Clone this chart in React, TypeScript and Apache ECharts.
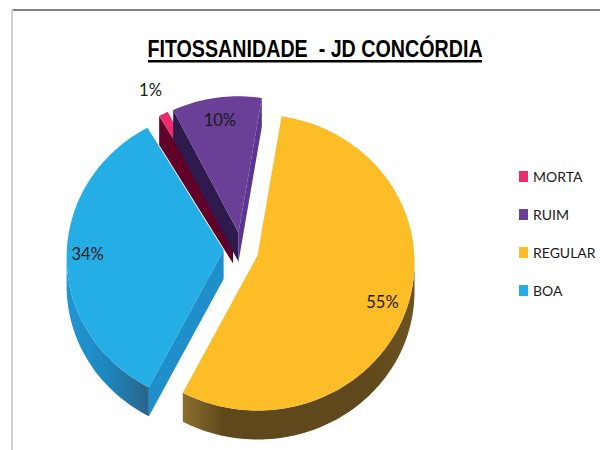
import React, { useEffect, useRef } from "react";
import * as echarts from "echarts";

const TITLE = "FITOSSANIDADE  - JD CONCÓRDIA";
const categories = ["MORTA", "RUIM", "REGULAR", "BOA"];
const values = [1, 9.5, 55.45, 34.05];

const topColors = ["#EE2A6D", "#6A3F98", "#FDBD27", "#25AEE6"];
const startWall: (string | null)[] = ["#600028", "#2E1A4D", null, "#1E8FCA"];
const endWall: (string | null)[] = [null, "#5B3590", null, null];
const labelRadius = [1.15, 0.82, 0.84, 0.866];
const labelShiftY = [0, 0, 0, -4];
const radiusScale = [0.97, 0.97, 1, 1];

const START_ANGLE = 331;
const CENTER_X = 241;
const CENTER_Y = 257;
const EXPLODE = 17.4;
const RX = 157;
const RY = 148;
const APEX_RISE = 7;
const DEPTH = 29;

const total = values.reduce((a, b) => a + b, 0);
const rad = (d: number) => (d * Math.PI) / 180;

function sliceRange(i: number) {
  const before = values.slice(0, i).reduce((a, b) => a + b, 0);
  const a0 = (START_ANGLE + (before / total) * 360) % 360;
  return [a0, a0 + (values[i] / total) * 360];
}

function rimGradient(i: number) {
  if (i === 2) {
    return new echarts.graphic.LinearGradient(0, 0, 1, 0, [
      { offset: 0, color: "#8A6E2C" },
      { offset: 0.18, color: "#5F481C" },
      { offset: 0.8, color: "#5F481C" },
      { offset: 1, color: "#6E5422" },
    ]);
  }
  return new echarts.graphic.LinearGradient(0, 0, 1, 0, [
    { offset: 0, color: "#2196D4" },
    { offset: 0.5, color: "#1D86BE" },
    { offset: 1, color: "#2A6488" },
  ]);
}

function renderSlice(i: number) {
  const [a0, a1] = sliceRange(i);
  const mid = rad((a0 + a1) / 2);
  const cx = CENTER_X + Math.sin(mid) * EXPLODE;
  const cy = CENTER_Y - Math.cos(mid) * EXPLODE;
  const rs = radiusScale[i];
  const at = (deg: number, r = 1, dy = 0): number[] => [
    cx + Math.sin(rad(deg)) * RX * r * rs,
    cy - Math.cos(rad(deg)) * RY * r * rs + dy,
  ];
  const apex = [cx, cy - APEX_RISE];
  const arc = (from: number, to: number, dy = 0) => {
    const pts: number[][] = [];
    const n = Math.max(2, Math.ceil(Math.abs(to - from) / 1.5));
    for (let k = 0; k <= n; k++) pts.push(at(from + ((to - from) * k) / n, 1, dy));
    return pts;
  };
  const children: any[] = [];
  const wall = (deg: number, fill: string) =>
    children.push({
      type: "polygon",
      shape: {
        points: [apex, at(deg), at(deg, 1, DEPTH), [apex[0], apex[1] + DEPTH]],
      },
      style: { fill },
    });
  // The rim is only visible on the lower half of the ellipse.
  const lo = Math.max(a0, 90);
  const hi = Math.min(a1, 270);
  if (hi > lo) {
    children.push({
      type: "polygon",
      shape: { points: [...arc(lo, hi), ...arc(hi, lo, DEPTH)] },
      style: { fill: rimGradient(i) },
    });
  }
  if (startWall[i]) wall(a0, startWall[i] as string);
  if (endWall[i]) wall(a1, endWall[i] as string);
  children.push({
    type: "polygon",
    shape: { points: [apex, ...arc(a0, a1)] },
    style: { fill: topColors[i] },
  });
  const lp = at((a0 + a1) / 2, labelRadius[i] / rs);
  children.push({
    type: "text",
    style: {
      text: `${Math.round((values[i] / total) * 100)}%`,
      x: lp[0],
      y: lp[1] + labelShiftY[i],
      align: "center",
      verticalAlign: "middle",
      fontFamily: "Lato",
      fontSize: 16.5,
      fill: "#1a1a1a",
    },
  });
  return { type: "group", children };
}

export default function App() {
  const ref = useRef<HTMLDivElement>(null);
  useEffect(() => {
    const chart = echarts.init(ref.current!, null, { renderer: "svg", width: 600, height: 450 });
    chart.setOption({
      animation: false,
      backgroundColor: "#ffffff",
      legend: {
        orient: "vertical",
        left: 514,
        top: 163,
        data: categories,
        icon: "rect",
        itemWidth: 9,
        itemHeight: 11,
        itemGap: 21,
        selectedMode: false,
        textStyle: {
          fontFamily: "Lato",
          fontSize: 14,
          color: "#1a1a1a",
          lineHeight: 17,
        },
      },
      graphic: [
        { type: "rect", shape: { x: 11, y: 9, width: 589, height: 2 }, style: { fill: "#808080" } },
        { type: "rect", shape: { x: 11, y: 9, width: 2, height: 441 }, style: { fill: "#D0D0D0" } },
        {
          type: "text",
          x: 315,
          y: 49,
          scaleX: 0.82,
          style: {
            text: TITLE,
            align: "center",
            verticalAlign: "middle",
            fontFamily: "Liberation Sans",
            fontWeight: "bold",
            fontSize: 24,
            fill: "#000000",
          },
        },
        { type: "rect", shape: { x: 148, y: 60, width: 334, height: 2.5 }, style: { fill: "#000000" } },
      ],
      series: categories.map((name, i) => ({
        type: "custom",
        name,
        coordinateSystem: "none",
        clip: false,
        data: [[values[i]]],
        itemStyle: { color: topColors[i] },
        renderItem: () => renderSlice(i),
      })),
    });
    return () => chart.dispose();
  }, []);
  return (
    <div
      ref={ref}
      style={{ position: "fixed", left: 0, top: 0, width: 600, height: 450 }}
    />
  );
}
